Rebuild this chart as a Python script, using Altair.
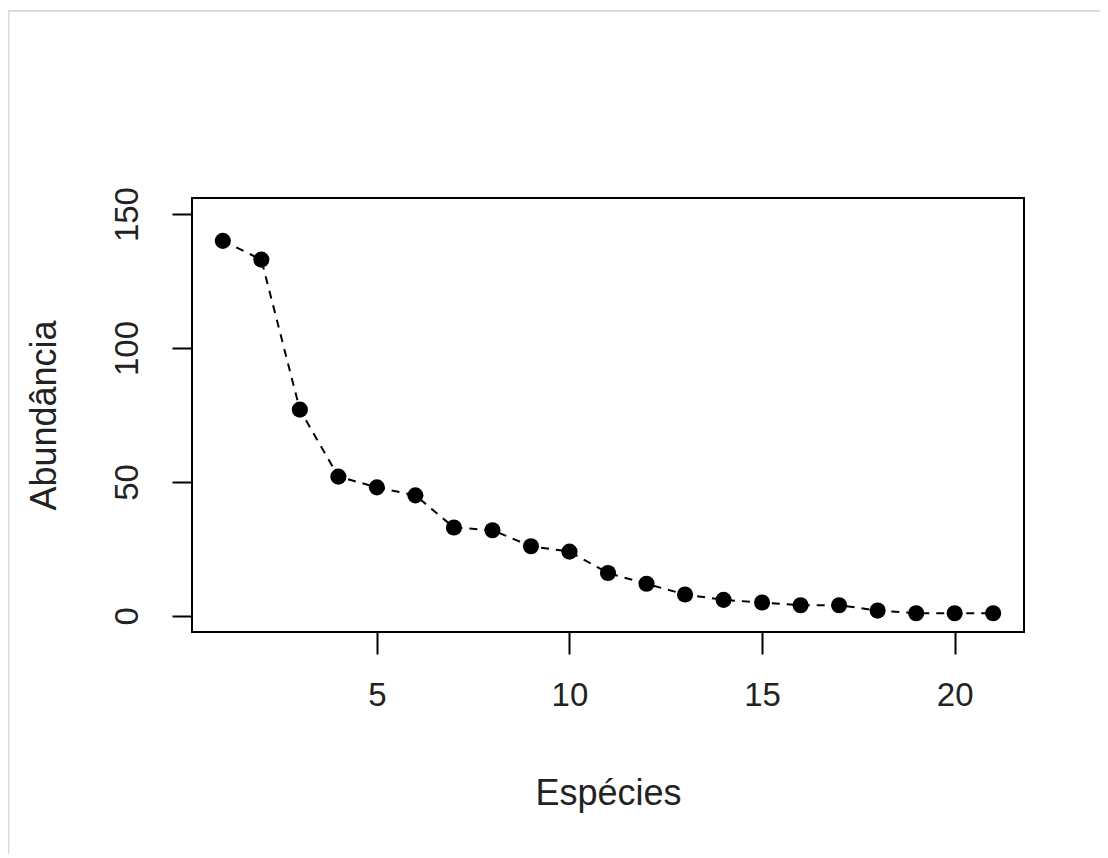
import altair as alt
import pandas as pd

especies = list(range(1, 22))
abundancia = [140, 133, 77, 52, 48, 45, 33, 32, 26, 24, 16, 12, 8, 6, 5, 4, 4, 2, 1, 1, 1]
x_ticks = [5, 10, 15, 20]
y_ticks = [0, 50, 100, 150]

df = pd.DataFrame({"Espécies": especies, "Abundância": abundancia})

FONT = "Liberation Sans"

x_enc = alt.X("Espécies:Q",
              scale=alt.Scale(domain=[0.2, 21.8], nice=False, zero=False),
              axis=alt.Axis(values=x_ticks, title="Espécies", grid=False, domain=False,
                            tickSize=22, tickWidth=2, tickColor="black",
                            labelFont=FONT, labelFontSize=33, labelColor="#222",
                            labelPadding=25, labelFlush=False,
                            titleFont=FONT, titleFontSize=36, titleFontWeight="normal",
                            titleColor="#222", titleY=172, titleBaseline="alphabetic"))
y_enc = alt.Y("Abundância:Q",
              scale=alt.Scale(domain=[-6, 156], nice=False, zero=False),
              axis=alt.Axis(values=y_ticks, title="Abundância", grid=False, domain=False,
                            tickSize=20, tickWidth=2, tickColor="black",
                            labelFont=FONT, labelFontSize=33, labelColor="#222",
                            labelAngle=270, labelPadding=28, labelFlush=False,
                            titleFont=FONT, titleFontSize=36, titleFontWeight="normal",
                            titleColor="#222", titleX=-137, titleBaseline="alphabetic",
                            titleAngle=270))

base = alt.Chart(df)
line = base.mark_line(color="black", strokeWidth=2, strokeDash=[8, 7]).encode(x=x_enc, y=y_enc)
pts = base.mark_circle(color="black", opacity=1, size=260).encode(x="Espécies:Q", y="Abundância:Q")

frame_top = alt.Chart(pd.DataFrame({"a": [0]})).mark_rule(color="#dcdcdc", strokeWidth=2).encode(
    x=alt.value(-185), x2=alt.value(920), y=alt.value(-187))
frame_left = alt.Chart(pd.DataFrame({"a": [0]})).mark_rule(color="#dcdcdc", strokeWidth=3).encode(
    x=alt.value(-184), y=alt.value(-187), y2=alt.value(700))

chart = alt.layer(frame_top, frame_left, line, pts).properties(
    width=832, height=434,
    autosize=alt.AutoSizeParams(type="none"),
    padding={"left": 184, "top": 190, "right": 76, "bottom": 222},
    background="white",
).configure_view(stroke="black", strokeWidth=2)

chart.save("out.html", embed_options={"renderer": "svg", "actions": False})
